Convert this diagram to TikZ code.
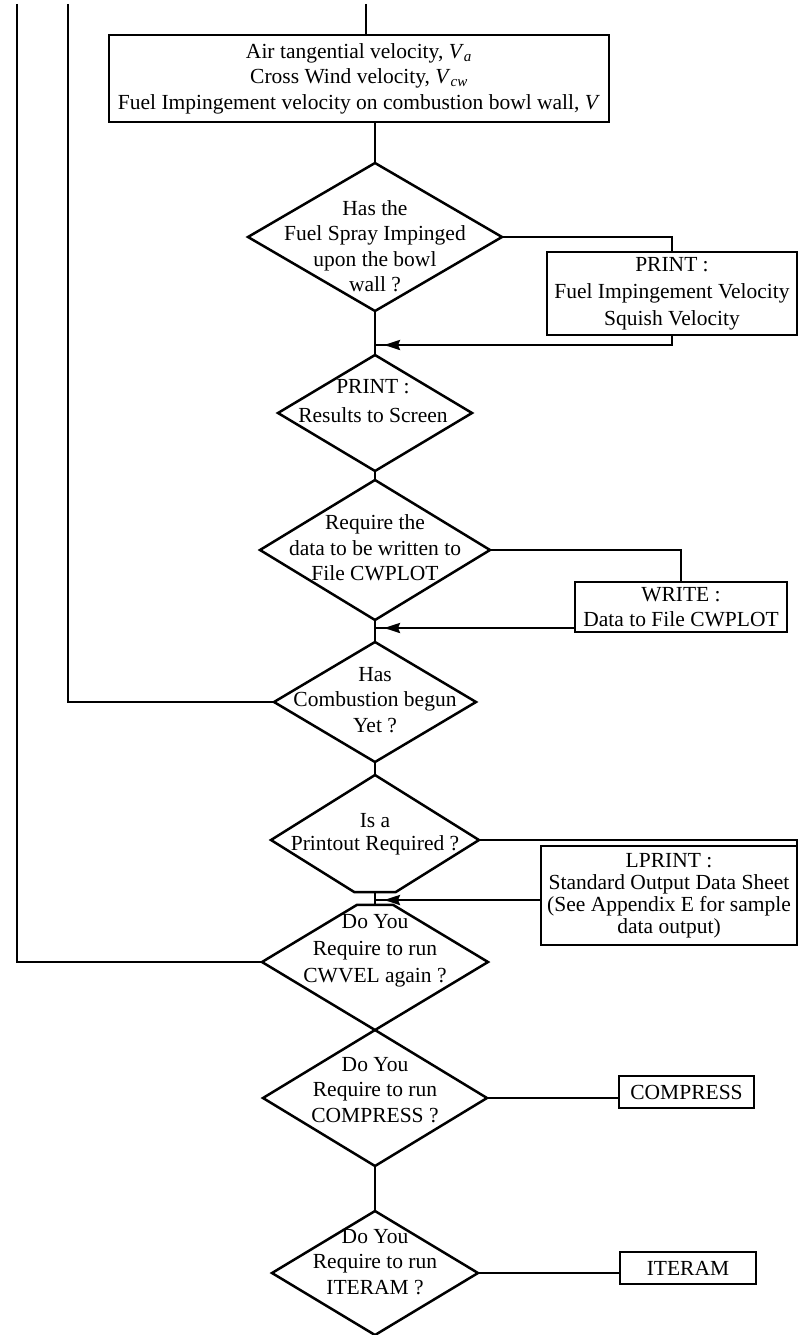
\documentclass[tikz,border=0pt]{standalone}
\usepackage{fontspec}
\setmainfont{Liberation Serif}
\usetikzlibrary{shapes.geometric,arrows.meta,calc}
\begin{document}
\begin{tikzpicture}[x=1pt,y=-1pt,
  line width=2.5pt,
  every node/.style={font=\fontsize{21.5}{25.5}\selectfont},
  dec/.style={shape=diamond, draw, inner sep=0pt, outer sep=0pt},
  decclip/.style={shape=diamond, inner sep=0pt, outer sep=0pt},
  stepbox/.style={draw, rectangle, inner sep=0pt, outer sep=0pt, align=center},
  lbl/.style={align=center, inner sep=0pt},
  tipline/.style={-{Stealth[length=16pt,width=10pt,inset=2pt]}, shorten >=9pt}
]
\fill[white] (0,0) rectangle (799,1335);
\useasboundingbox (0,0) rectangle (799,1335);

% loop-back lines entering from the top
\coordinate (out0) at (17,4);
\coordinate (in0) at (68,4);
\coordinate (top0) at (366,4);

% velocity summary box
\node[stepbox, minimum width=500pt, minimum height=87pt] (b0) at (359,78.5)
  {Air tangential velocity, \textit{V}\textsubscript{\textit{a}}\\
   Cross Wind velocity, \textit{V}\textsubscript{\textit{cw}}\\
   Fuel Impingement velocity on combustion bowl wall, \textit{V}};

% decisions along the main spine
\node[dec, minimum width=254pt, minimum height=148pt] (d1) at (375,237) {};
\node[lbl] (t1) at (375,246) {Has the\\Fuel Spray Impinged\\upon the bowl\\wall ?};

\node[stepbox, minimum width=250pt, minimum height=83pt] (b1) at (672,293.5)
  {PRINT :\\[1.5pt]Fuel Impingement Velocity\\[1.5pt]Squish Velocity};

\node[dec, minimum width=194pt, minimum height=116pt] (d2) at (375,413) {};
\node[lbl] (t2) at (373,401) {PRINT :\\[4pt]Results to Screen};

\node[dec, minimum width=230pt, minimum height=140pt] (d3) at (375,550) {};
\node[lbl] (t3) at (375,548) {Require the\\data to be written to\\File CWPLOT};

\node[stepbox, minimum width=212pt, minimum height=50pt] (b2) at (681,607)
  {WRITE :\\Data to File CWPLOT};

\node[dec, minimum width=202pt, minimum height=120pt] (d4) at (375,702) {};
\node[lbl] (t4) at (375,700) {Has\\Combustion begun\\Yet ?};

% printout decision, flattened at the bottom
\node[decclip, minimum width=208pt, minimum height=130pt] (d5) at (375,840) {};
\coordinate (d5r) at ($(d5.east)!0.8!(d5.south)$);
\coordinate (d5l) at ($(d5.west)!0.8!(d5.south)$);
\coordinate (d5b) at ($(d5l)!0.5!(d5r)$);
\draw (d5.west) -- (d5.north) -- (d5.east) -- (d5r) -- (d5l) -- cycle;
\node[lbl] (t5) at (375,834) {Is a\\[-2pt]Printout Required ?};

\node[stepbox, minimum width=256pt, minimum height=99pt] (b3) at (669,895.5)
  {LPRINT :\\[-3.5pt]Standard Output Data Sheet\\[-3.5pt](See Appendix E for sample\\[-3.5pt]data output)};

% CWVEL decision, flattened at the top
\node[decclip, minimum width=226pt, minimum height=136pt] (d6) at (375,962) {};
\coordinate (d6l) at ($(d6.west)!0.84!(d6.north)$);
\coordinate (d6r) at ($(d6.east)!0.84!(d6.north)$);
\coordinate (d6t) at ($(d6l)!0.5!(d6r)$);
\draw (d6.west) -- (d6l) -- (d6r) -- (d6.east) -- (d6.south) -- cycle;
\node[lbl] (t6) at (375,951) {Do You\\[1.5pt]Require to run\\[1.5pt]CWVEL again ?};

\node[dec, minimum width=224pt, minimum height=136pt] (d7) at (375,1098) {};
\node[lbl] (t7) at (375,1090) {Do You\\Require to run\\COMPRESS ?};
\node[stepbox, minimum width=135pt, minimum height=32pt] (cb) at (686.5,1092) {COMPRESS};

\node[dec, minimum width=206pt, minimum height=124pt] (d8) at (375,1273) {};
\node[lbl] (t8) at (375,1262) {Do You\\Require to run\\ITERAM ?};
\node[stepbox, minimum width=136pt, minimum height=32pt] (ib) at (688,1268) {ITERAM};

% main spine
\draw (top0) -- (top0 |- b0.north);
\draw (b0.south -| d1.north) -- (d1.north);
\draw (d1.south) -- (d2.north);
\draw (d2.south) -- (d3.north);
\draw (d3.south) -- (d4.north);
\draw (d4.south) -- (d5.north);
\draw (d5b) -- (d6t);
\draw (d7.south) -- (d8.north);

% side branches, returns marked with a small arrowhead near the spine
\path (d1.south) ++(0,34) coordinate (j1);
\draw (d1.east) -| (b1.north);
\draw (b1.south) |- (j1);
\draw[tipline] (b1.south) |- (j1);

\coordinate (w2) at ([yshift=4pt]b2.south west);
\draw (d3.east) -| (b2.north);
\draw (w2) -- (w2 -| d3.south);
\draw[tipline] (w2) -- (w2 -| d3.south);

\coordinate (w3) at ([yshift=-4.5pt]b3.west);
\draw (d5.east) -- (d5.east -| b3.east) -- (b3.north east);
\draw (w3) -- (w3 -| d5.south);
\draw[tipline] (w3) -- (w3 -| d5.south);

\draw (d7.east) -- (d7.east -| cb.west);
\draw (d8.east) -- (d8.east -| ib.west);

% loop-back returns
\draw (in0) |- (d4.west);
\draw (out0) |- (d6.west);
\end{tikzpicture}
\end{document}
